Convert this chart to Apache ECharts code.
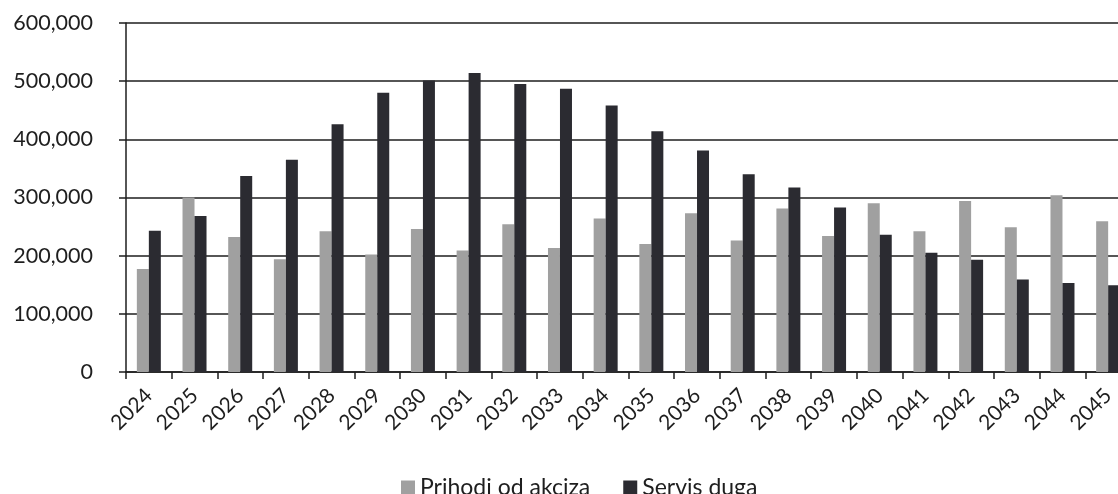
<!DOCTYPE html>
<html>
<head>
<meta charset="utf-8">
<script src="https://cdn.jsdelivr.net/npm/echarts@6/dist/echarts.min.js"></script>
<style>
  html, body { margin: 0; padding: 0; background: #fff; }
  #main { width: 1118px; height: 494px; }
</style>
</head>
<body>
<div id="main"></div>
<script>
// years on the x axis
var years = ['2024', '2025', '2026', '2027', '2028', '2029', '2030', '2031', '2032', '2033', '2034',
             '2035', '2036', '2037', '2038', '2039', '2040', '2041', '2042', '2043', '2044', '2045'];

// Prihodi od akciza (light bars)
var prihodi = [177000, 300000, 232000, 194000, 242000, 202000, 246000, 209000, 254000, 213000, 264000,
               220000, 273000, 226000, 281000, 234000, 290000, 242000, 294000, 249000, 304000, 259000];

// Servis duga (dark bars)
var servis = [243000, 268000, 337000, 365000, 426000, 480000, 501000, 514000, 495000, 487000, 458000,
              414000, 381000, 340000, 317000, 283000, 236000, 205000, 193000, 159000, 153000, 149000];

var FONT = 'Lato';
var INK = '#1e1e1e';

var myChart = echarts.init(document.getElementById('main'));
myChart.setOption({
    animation: false,
    textStyle: { fontFamily: FONT },
    grid: {
        left: 126,
        right: -13,
        top: 23,
        bottom: 122,
        outerBoundsMode: 'none'
    },
    legend: {
        top: 471,
        left: 396,
        icon: 'rect',
        itemWidth: 14,
        itemHeight: 14,
        itemGap: 33,
        textStyle: { fontSize: 23, color: INK, fontFamily: FONT },
        data: ['Prihodi od akciza', 'Servis duga']
    },
    xAxis: {
        type: 'category',
        data: years,
        axisLine: { lineStyle: { color: INK, width: 1.5 } },
        axisTick: { show: true, length: 7, lineStyle: { color: INK, width: 1.5 } },
        axisLabel: {
            rotate: 45,
            margin: 20,
            fontSize: 21,
            color: INK,
            fontFamily: FONT
        }
    },
    yAxis: {
        type: 'value',
        min: 0,
        max: 600000,
        interval: 100000,
        axisLine: { show: true, lineStyle: { color: INK, width: 1.5 } },
        axisTick: { show: true, length: 7, lineStyle: { color: INK, width: 1.5 } },
        axisLabel: {
            margin: 33,
            fontSize: 21.5,
            color: INK,
            fontFamily: FONT,
            formatter: function (v) { return v.toLocaleString('en-US'); }
        },
        splitLine: { lineStyle: { color: INK, width: 1.5 } }
    },
    series: [
        {
            name: 'Prihodi od akciza',
            type: 'bar',
            data: prihodi,
            barWidth: 12,
            barGap: '0%',
            itemStyle: { color: '#a0a0a0' }
        },
        {
            name: 'Servis duga',
            type: 'bar',
            data: servis,
            barWidth: 12,
            itemStyle: { color: '#2b2b31' }
        }
    ]
});
</script>
</body>
</html>
